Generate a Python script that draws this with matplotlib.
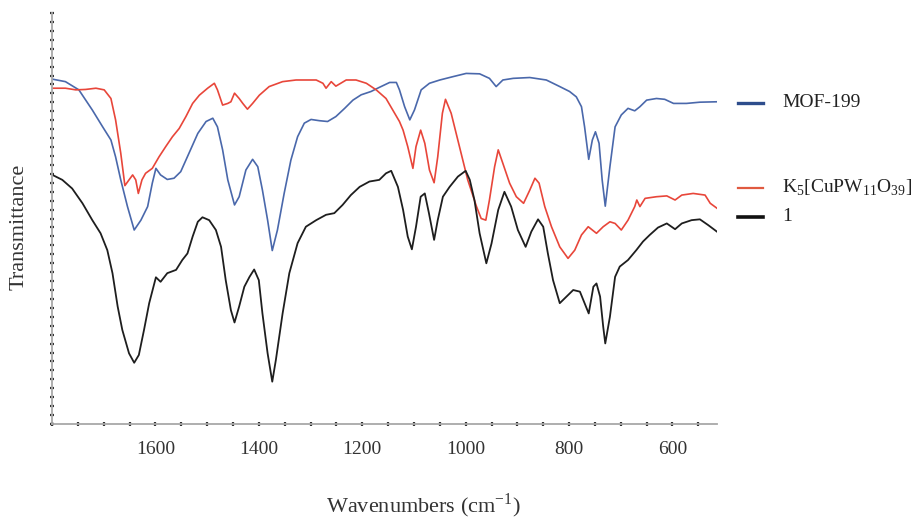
import numpy as np
import matplotlib
matplotlib.use('Agg')
import matplotlib.pyplot as plt
from matplotlib import rcParams
from matplotlib.ticker import MultipleLocator
from matplotlib.lines import Line2D

rcParams['font.family'] = ['Liberation Serif', 'DejaVu Serif']
rcParams['mathtext.fontset'] = 'custom'
rcParams['mathtext.rm'] = 'Liberation Serif'

# MOF-199 (blue)
wn_mof = [1799, 1774, 1748, 1722, 1702, 1686, 1677, 1667, 1654, 1641,
          1628, 1615, 1606, 1599, 1590, 1577, 1564, 1551, 1535, 1518,
          1502, 1489, 1480, 1470, 1460, 1447, 1438, 1425, 1412, 1402,
          1393, 1383, 1374, 1364, 1351, 1338, 1325, 1312, 1299, 1283,
          1267, 1251, 1234, 1218, 1202, 1183, 1167, 1147, 1134, 1128,
          1118, 1108, 1099, 1086, 1070, 1050, 1025, 999, 973, 954,
          941, 928, 908, 876, 844, 818, 799, 786, 776, 770,
          762, 755, 749, 742, 736, 730, 721, 711, 699, 686,
          673, 663, 650, 631, 615, 598, 573, 547, 514]
t_mof = [83.9, 83.3, 81.3, 76.4, 72.3, 69.1, 65.0, 59.4, 52.9, 47.2,
         49.6, 52.9, 58.6, 62.2, 60.6, 59.5, 59.8, 61.4, 65.9, 70.7,
         73.6, 74.4, 72.3, 66.7, 59.4, 53.3, 55.3, 61.8, 64.4, 62.6,
         56.9, 49.6, 42.2, 47.2, 56.1, 64.2, 69.9, 73.2, 74.1, 73.8,
         73.6, 74.8, 76.8, 78.8, 80.1, 80.9, 81.9, 83.1, 83.1, 81.3,
         77.2, 74.0, 76.4, 81.3, 82.9, 83.7, 84.5, 85.3, 85.2, 84.1,
         82.1, 83.7, 84.1, 84.3, 83.7, 82.1, 80.9, 79.6, 77.2, 72.3,
         64.4, 69.1, 71.1, 68.3, 59.4, 53.0, 62.6, 72.3, 75.2, 76.8,
         76.2, 77.2, 78.8, 79.2, 79.0, 78.0, 78.0, 78.3, 78.4]

# K5[CuPW11O39] (red)
wn_k5 = [1799, 1774, 1754, 1735, 1715, 1699, 1686, 1677, 1667, 1659,
         1651, 1644, 1638, 1633, 1626, 1619, 1606, 1593, 1580, 1567,
         1554, 1541, 1528, 1515, 1499, 1486, 1480, 1470, 1460, 1454,
         1447, 1438, 1431, 1422, 1412, 1399, 1380, 1354, 1328, 1289,
         1276, 1270, 1260, 1251, 1231, 1212, 1192, 1173, 1154, 1141,
         1128, 1121, 1112, 1102, 1096, 1087, 1079, 1070, 1061, 1054,
         1045, 1039, 1028, 1012, 996, 979, 970, 961, 954, 944,
         937, 928, 915, 902, 888, 876, 866, 858, 847, 834,
         818, 802, 789, 776, 763, 747, 734, 721, 711, 699,
         686, 673, 669, 663, 653, 631, 611, 595, 582, 560,
         537, 527, 514]
t_k5 = [81.7, 81.7, 81.3, 81.4, 81.7, 81.3, 79.2, 74.0, 65.9, 58.0,
        59.4, 60.6, 59.4, 56.1, 59.4, 61.0, 62.2, 65.0, 67.5, 69.9,
        71.9, 74.8, 78.0, 80.0, 81.7, 82.9, 81.3, 77.6, 78.0, 78.4,
        80.5, 79.2, 78.0, 76.6, 78.0, 80.0, 82.1, 83.3, 83.7, 83.7,
        82.9, 81.7, 83.3, 82.2, 83.7, 83.7, 82.9, 81.3, 79.2, 76.4,
        73.6, 71.5, 67.5, 62.2, 67.5, 71.5, 68.3, 61.8, 58.7, 65.0,
        75.6, 79.0, 75.6, 67.5, 59.4, 52.9, 50.0, 49.6, 54.5, 62.6,
        66.7, 63.4, 58.6, 55.3, 53.7, 56.9, 59.8, 58.6, 52.9, 48.0,
        43.1, 40.3, 42.3, 46.0, 48.0, 46.4, 48.0, 49.2, 48.8, 47.2,
        49.6, 52.9, 54.5, 52.9, 54.9, 55.3, 55.5, 54.5, 55.7, 56.1,
        55.7, 53.7, 52.5]

# compound 1 (black)
wn_1 = [1799, 1780, 1761, 1741, 1722, 1706, 1693, 1683, 1673, 1664,
        1651, 1641, 1632, 1622, 1612, 1599, 1590, 1577, 1560, 1548,
        1538, 1528, 1518, 1509, 1496, 1483, 1473, 1464, 1454, 1447,
        1438, 1428, 1418, 1409, 1400, 1393, 1383, 1374, 1367, 1354,
        1341, 1325, 1309, 1289, 1270, 1254, 1238, 1222, 1205, 1186,
        1167, 1154, 1144, 1131, 1121, 1112, 1104, 1096, 1087,
        1079, 1071, 1061, 1054, 1044, 1031, 1015, 1000, 992, 983,
        973, 960, 950, 937, 925, 912, 899, 884, 873, 860,
        850, 841, 831, 818, 805, 792, 779, 770, 762, 753,
        747, 740, 734, 730, 721, 711, 702, 686, 670, 657,
        644, 628, 611, 595, 582, 563, 547, 531, 514]
t_1 = [60.6, 59.4, 57.3, 53.7, 49.6, 46.4, 42.3, 36.7, 28.6, 22.9,
       17.2, 14.9, 16.8, 22.9, 29.4, 35.7, 34.6, 36.7, 37.5, 39.9,
       41.5, 45.6, 49.2, 50.3, 49.6, 47.2, 43.1, 35.0, 27.7, 24.7,
       28.6, 33.4, 35.8, 37.6, 35.0, 26.9, 17.2, 10.3, 15.6, 26.9,
       36.7, 44.0, 48.0, 49.6, 50.9, 51.3, 53.3, 55.7, 57.7, 59.0,
       59.4, 61.0, 61.6, 57.7, 52.1, 45.6, 42.5, 48.0, 55.3,
       56.1, 51.3, 44.8, 49.6, 55.3, 57.7, 60.2, 61.6, 59.4, 54.5,
       46.4, 39.1, 43.9, 52.1, 56.5, 52.9, 47.2, 43.1, 46.8, 49.8,
       48.0, 41.5, 35.0, 29.4, 31.0, 32.6, 32.2, 29.4, 26.9, 33.4,
       34.2, 31.0, 23.7, 19.6, 26.1, 35.8, 38.3, 39.9, 42.3, 44.4,
       46.0, 47.8, 48.8, 47.4, 48.8, 49.6, 49.8, 48.4, 46.8]

x_ticks = [1600, 1400, 1200, 1000, 800, 600]
labels = ['MOF-199', r'K$_\mathrm{5}$[CuPW$_\mathrm{11}$O$_\mathrm{39}$]', '1']

blue = '#4a68ab'
red = '#e8463a'
black = '#1e1e1e'

fig = plt.figure(figsize=(9.2, 5.2), dpi=100)
ax = fig.add_axes([0.0565, 0.1846, 0.7228, 0.7904])

ax.plot(wn_mof, t_mof, color=blue, lw=1.2)
ax.plot(wn_k5, t_k5, color=red, lw=1.2)
ax.plot(wn_1, t_1, color=black, lw=1.3)

ax.set_xlim(1800, 514)
ax.set_ylim(0, 100)
ax.set_xticks(x_ticks)
ax.xaxis.set_minor_locator(MultipleLocator(50))
ax.yaxis.set_major_locator(MultipleLocator(100 / 46))
ax.set_yticklabels([])

for s in ['top', 'right']:
    ax.spines[s].set_visible(False)
for s in ['left', 'bottom']:
    ax.spines[s].set_color('#a8a8a8')
    ax.spines[s].set_linewidth(1.3)

ax.tick_params(axis='x', which='both', direction='inout', length=2.5, width=1.6,
               color='#333333', labelsize=14, pad=11, labelcolor='#333333')
ax.tick_params(axis='y', which='both', direction='inout', length=2.5, width=1.6,
               color='#333333')

fig.text(0.46, 0.027, r'Wavenumbers (cm$^\mathrm{-1}$)', fontsize=16,
         ha='center', va='center', color='#333333')
fig.text(0.021, 0.563, 'Transmittance', fontsize=16, rotation=90,
         ha='center', va='center', color='#333333')

# legend drawn beside the curve ends
leg_y = [0.802, 0.638, 0.583]
leg_c = ['#2e4d8c', '#e05a40', '#111111']
leg_w = [2.4, 1.6, 2.6]
for yy, c, w, lab in zip(leg_y, leg_c, leg_w, labels):
    fig.add_artist(Line2D([0.802, 0.829], [yy, yy], color=c, lw=w,
                          transform=fig.transFigure))
    fig.text(0.850, yy, lab, fontsize=14, ha='left', va='center', color='#222222')

plt.savefig('out.png', dpi=100)
